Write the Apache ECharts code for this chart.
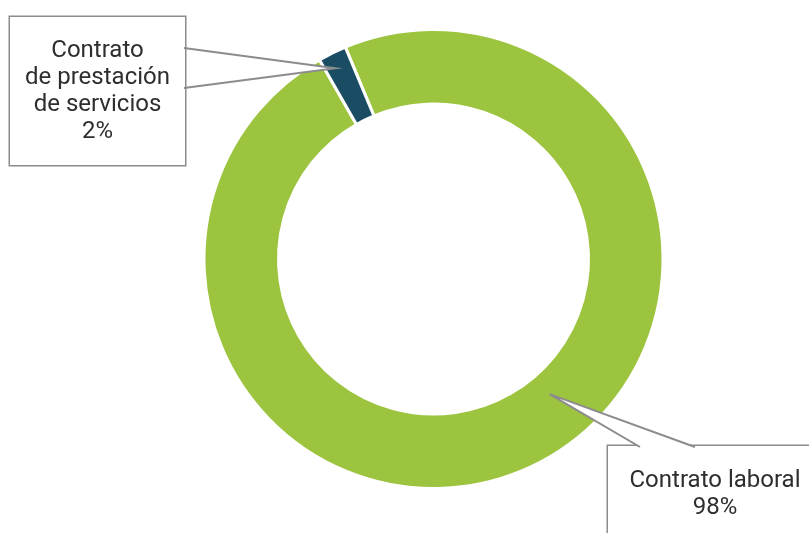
<!DOCTYPE html>
<html>
<head>
<meta charset="utf-8">
<script src="https://cdn.jsdelivr.net/npm/echarts@6/dist/echarts.min.js"></script>
<style>
  html, body { margin: 0; padding: 0; background: #ffffff; }
  #main { width: 809px; height: 533px; }
</style>
</head>
<body>
<div id="main"></div>
<script>
// Contract types
const categories = ['Contrato laboral', 'Contrato de prestación de servicios'];
const displayNames = ['Contrato laboral', 'Contrato\nde prestación\nde servicios'];
const values = [98, 2];
const colors = ['#9cc43e', '#1a4d64'];

// Callout boxes: centre, text width, padding; wedge base points on the box edge,
// and where the wedge tip lands inside its slice (fraction of arc, fraction of ring width)
const callouts = [
  { cx: 715, cy: 494, width: 194, padding: [24, 10, 18, 10],
    base: [[640, 447], [695, 447]], tipArc: 0.459, tipRing: 0.31 },
  { cx: 97.5, cy: 91, width: 155, padding: [23, 10, 17, 10],
    base: [[184, 48], [184, 88]], tipArc: 0.36, tipRing: 0.8 }
];

const FONT = 'Roboto';
const BOX_LINE = '#8c8c8c';

const chart = echarts.init(document.getElementById('main'), null, { renderer: 'canvas' });

const option = {
  backgroundColor: '#ffffff',
  animation: false,
  series: [{
    type: 'pie',
    center: [433.5, 259],
    radius: [155, 229.5],
    startAngle: 112.6,
    clockwise: true,
    avoidLabelOverlap: false,
    percentPrecision: 0,
    itemStyle: { borderColor: '#ffffff', borderWidth: 3 },
    label: {
      show: true,
      position: 'outside',
      formatter: p => displayNames[p.dataIndex] + '\n' + p.percent + '%',
      fontFamily: FONT,
      fontSize: 24,
      lineHeight: 27,
      color: '#2e2e2e',
      align: 'center',
      backgroundColor: '#ffffff',
      borderColor: BOX_LINE,
      borderWidth: 1.5
    },
    labelLine: { show: false },
    labelLayout: params => ({
      x: callouts[params.dataIndex].cx,
      y: callouts[params.dataIndex].cy,
      align: 'center',
      verticalAlign: 'middle'
    }),
    data: categories.map((name, i) => ({
      name: name,
      value: values[i],
      itemStyle: { color: colors[i] },
      label: { width: callouts[i].width, padding: callouts[i].padding }
    }))
  }]
};

chart.setOption(option);

// Speech-bubble pointers from each box into its slice, placed from the pie's own layout
const data = chart.getModel().getSeriesByIndex(0).getData();
const graphics = [];
callouts.forEach((c, i) => {
  const lay = data.getItemLayout(i);
  const a = lay.startAngle + c.tipArc * (lay.endAngle - lay.startAngle);
  const r = lay.r0 + c.tipRing * (lay.r - lay.r0);
  const tip = [lay.cx + r * Math.cos(a), lay.cy + r * Math.sin(a)];
  const [b1, b2] = c.base;
  // white fill hides the box border under the pointer opening
  const inset = i === 0 ? [[b1[0], b1[1] + 3], [b2[0], b2[1] + 3]] : [[b1[0] + 3, b1[1]], [b2[0] + 3, b2[1]]];
  graphics.push({
    type: 'polygon', z: 100,
    shape: { points: [inset[0], b1, tip, b2, inset[1]] },
    style: { fill: '#ffffff', stroke: null }
  });
  graphics.push({
    type: 'polyline', z: 101,
    shape: { points: [b1, tip, b2] },
    style: { stroke: BOX_LINE, lineWidth: 2, fill: null }
  });
});
chart.setOption({ graphic: graphics });
</script>
</body>
</html>
